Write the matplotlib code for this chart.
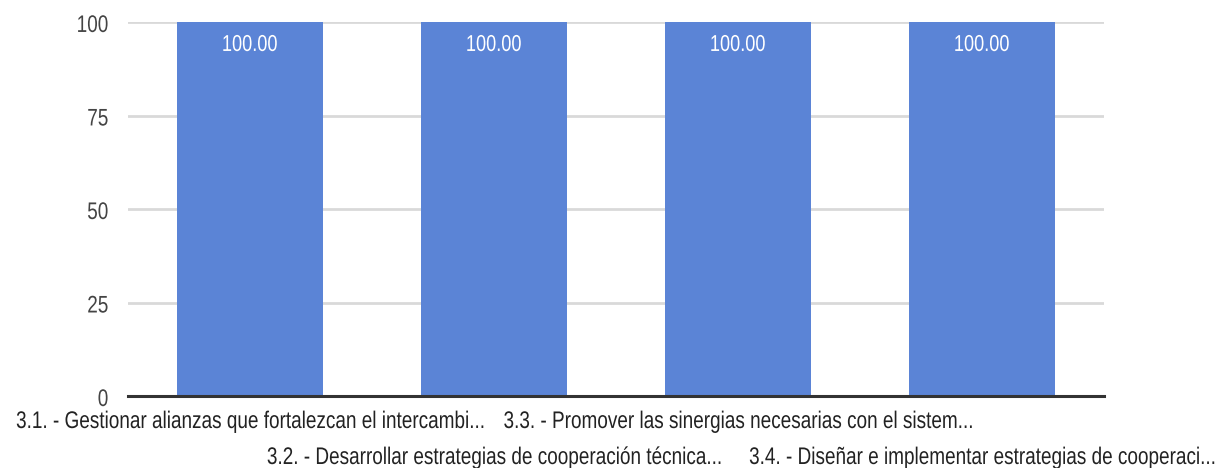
import matplotlib
matplotlib.use("Agg")
import matplotlib.pyplot as plt
from matplotlib import font_manager
from matplotlib.font_manager import FontProperties
from matplotlib.textpath import TextPath
from matplotlib.patches import PathPatch
from matplotlib.transforms import Affine2D

categories = [
    "3.1. - Gestionar alianzas que fortalezcan el intercambi...",
    "3.2. - Desarrollar estrategias de cooperación técnica...",
    "3.3. - Promover las sinergias necesarias con el sistem...",
    "3.4. - Diseñar e implementar estrategias de cooperaci...",
]
values = [100.00, 100.00, 100.00, 100.00]
y_ticks = [0, 25, 50, 75, 100]

names = {f.name for f in font_manager.fontManager.ttflist}
base_family = "Liberation Sans" if "Liberation Sans" in names else "DejaVu Sans"
FONT = FontProperties(family=base_family)

W, H = 1223, 468
fig = plt.figure(figsize=(W / 100, H / 100), dpi=100)
ax = fig.add_axes([0.1047, 0.1528, 0.7980, 0.7992])

x = list(range(len(categories)))
ax.bar(x, values, width=0.595, color="#5b84d6", zorder=2)

ax.set_xlim(-0.5, len(categories) - 0.5)
ax.set_ylim(0, 100)
ax.set_yticks(y_ticks)
ax.set_yticklabels([])
ax.tick_params(axis="y", length=0)
ax.set_xticks([])

ax.grid(axis="y", color="#d9d9d9", linewidth=2, zorder=0)
for s in ["top", "right", "left"]:
    ax.spines[s].set_visible(False)
ax.spines["bottom"].set_color("#333333")
ax.spines["bottom"].set_linewidth(2.2)
ax.spines["bottom"].set_zorder(4)


def narrow_text(s, x_px, y_base, ha="center", color="#222222", em=24, sx=0.79):
    """Draw condensed text as a path; x_px/y_base are display pixels (baseline)."""
    path = TextPath((0, 0), s, size=em, prop=FONT)
    bb = path.get_extents()
    if ha == "center":
        dx = x_px - sx * (bb.x0 + bb.x1) / 2
    elif ha == "right":
        dx = x_px - sx * bb.x1
    else:
        dx = x_px - sx * bb.x0
    tr = Affine2D().scale(sx, 1).translate(dx, y_base)
    fig.add_artist(PathPatch(path, transform=tr, facecolor=color,
                             edgecolor="none", lw=0, zorder=5))


to_px = ax.transData.transform
x_axis_left = to_px((-0.5, 0))[0]

# y tick labels
for t in y_ticks:
    px, py = to_px((-0.5, t))
    narrow_text(str(t), x_axis_left - 20.5, py - 9.5, ha="right", color="#444444")

# value labels inside the bar tops
for xi, v in zip(x, values):
    px, py = to_px((xi, v))
    narrow_text(f"{v:.2f}", px, py - 28.5, ha="center", color="white", em=23)

# staggered category labels: even indices on the first row, odd on the second
_, y0 = to_px((0, 0))
for i, label in enumerate(categories):
    px, _ = to_px((i, 0))
    base = y0 - 31.5 if i % 2 == 0 else y0 - 67.5
    narrow_text(label, px, base, ha="center", color="#222222")

fig.savefig("out.png", dpi=100)
